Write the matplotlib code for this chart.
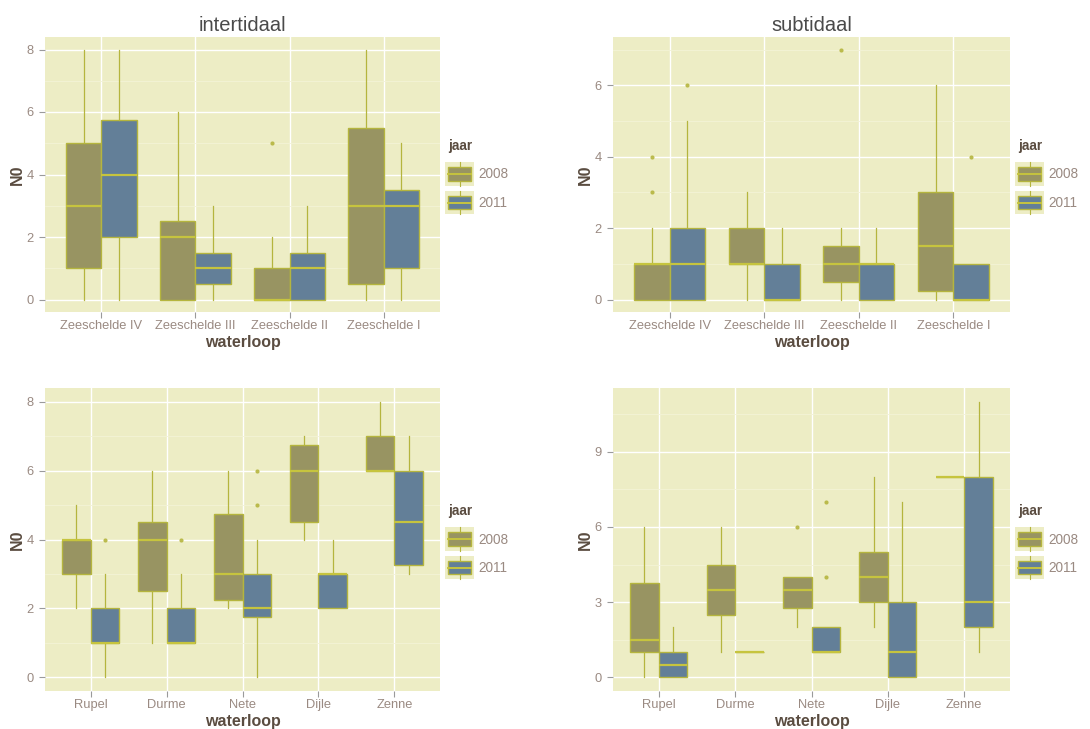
import matplotlib
matplotlib.use("Agg")
import matplotlib.pyplot as plt
from matplotlib.patches import Rectangle
from matplotlib.lines import Line2D
from matplotlib.legend_handler import HandlerBase

plt.rcParams['font.family'] = ['Liberation Sans', 'DejaVu Sans']

# ---------------- data (whislo, q1, median, q3, whishi) ----------------
cats_top = ["Zeeschelde IV", "Zeeschelde III", "Zeeschelde II", "Zeeschelde I"]
cats_bot = ["Rupel", "Durme", "Nete", "Dijle", "Zenne"]
years = ["2008", "2011"]

inter_2008 = [[0, 1, 3, 5, 8], [0, 0, 2, 2.5, 6], [0, 0, 0, 1, 2], [0, 0.5, 3, 5.5, 8]]
inter_2008_out = [[], [], [5], []]
inter_2011 = [[0, 2, 4, 5.75, 8], [0, 0.5, 1, 1.5, 3], [0, 0, 1, 1.5, 3], [0, 1, 3, 3.5, 5]]
inter_2011_out = [[], [], [], []]

sub_2008 = [[0, 0, 1, 1, 2], [0, 1, 1, 2, 3], [0, 0.5, 1, 1.5, 2], [0, 0.25, 1.5, 3, 6]]
sub_2008_out = [[3, 4], [], [7], []]
sub_2011 = [[0, 0, 1, 2, 5], [0, 0, 0, 1, 2], [0, 0, 1, 1, 2], [0, 0, 0, 1, 1]]
sub_2011_out = [[6], [], [], [4]]

zij_int_2008 = [[2, 3, 4, 4, 5], [1, 2.5, 4, 4.5, 6], [2, 2.25, 3, 4.75, 6], [4, 4.5, 6, 6.75, 7], [6, 6, 6, 7, 8]]
zij_int_2008_out = [[], [], [], [], []]
zij_int_2011 = [[0, 1, 1, 2, 3], [1, 1, 1, 2, 3], [0, 1.75, 2, 3, 4], [2, 2, 3, 3, 4], [3, 3.25, 4.5, 6, 7]]
zij_int_2011_out = [[4], [4], [5, 6], [], []]

zij_sub_2008 = [[0, 1, 1.5, 3.75, 6], [1, 2.5, 3.5, 4.5, 6], [2, 2.75, 3.5, 4, 4], [2, 3, 4, 5, 8], [8, 8, 8, 8, 8]]
zij_sub_2008_out = [[], [], [6], [], []]
zij_sub_2011 = [[0, 0, 0.5, 1, 2], [1, 1, 1, 1, 1], [1, 1, 1, 2, 2], [0, 0, 1, 3, 7], [1, 2, 3, 8, 11]]
zij_sub_2011_out = [[], [], [4, 7], [], []]

# ---------------- styling ----------------
BG = "#EDEDC5"
MINOR = "#F3F3D6"
FILL = {"2008": "#989462", "2011": "#637F98"}
EDGE = "#B5B53E"
MED = "#C6C43E"
TICKC = "#9A8A82"
AXTC = "#5A4C40"

fig = plt.figure(figsize=(10.9, 7.29), dpi=100)
fig.patch.set_facecolor("white")

W, H = 1090, 729
def rect(l, t, r, b):
    return [l / W, 1 - b / H, (r - l) / W, (b - t) / H]

panels = [
    dict(pos=rect(45, 37, 440, 312), cats=cats_top, d08=inter_2008, o08=inter_2008_out,
         d11=inter_2011, o11=inter_2011_out, ymax=8, yticks=[0, 2, 4, 6, 8], minor=[1, 3, 5, 7], title="intertidaal"),
    dict(pos=rect(613, 37, 1010, 312), cats=cats_top, d08=sub_2008, o08=sub_2008_out,
         d11=sub_2011, o11=sub_2011_out, ymax=7, yticks=[0, 2, 4, 6], minor=[1, 3, 5, 7], title="subtidaal"),
    dict(pos=rect(45, 388, 440, 691), cats=cats_bot, d08=zij_int_2008, o08=zij_int_2008_out,
         d11=zij_int_2011, o11=zij_int_2011_out, ymax=8, yticks=[0, 2, 4, 6, 8], minor=[1, 3, 5, 7], title=None),
    dict(pos=rect(613, 388, 1010, 691), cats=cats_bot, d08=zij_sub_2008, o08=zij_sub_2008_out,
         d11=zij_sub_2011, o11=zij_sub_2011_out, ymax=11, yticks=[0, 3, 6, 9], minor=[1.5, 4.5, 7.5, 10.5], title=None),
]


class BoxKey(HandlerBase):
    def create_artists(self, legend, orig_handle, xdescent, ydescent, width, height, fontsize, trans):
        col = orig_handle.get_facecolor()
        arts = []
        arts.append(Rectangle((-xdescent - 2, -ydescent - 3), width + 4, height + 6, facecolor=BG,
                              edgecolor="none", transform=trans))
        arts.append(Line2D([-xdescent + width / 2] * 2, [-ydescent - 3, -ydescent + height + 3],
                           color=EDGE, lw=0.8, transform=trans))
        arts.append(Rectangle((-xdescent, -ydescent + 0.5), width, height - 1, facecolor=col,
                              edgecolor=EDGE, lw=1.0, transform=trans))
        arts.append(Line2D([-xdescent, -xdescent + width], [-ydescent + height / 2] * 2,
                           color=MED, lw=1.4, transform=trans))
        return arts


for p in panels:
    ax = fig.add_axes(p["pos"])
    ax.set_facecolor(BG)
    n = len(p["cats"])
    for yi, (dat, out) in enumerate([(p["d08"], p["o08"]), (p["d11"], p["o11"])]):
        stats = []
        for s, o in zip(dat, out):
            stats.append(dict(whislo=s[0], q1=s[1], med=s[2], q3=s[3], whishi=s[4], fliers=o))
        offs = -0.1875 if yi == 0 else 0.1875
        pos = [i + offs for i in range(n)]
        ax.bxp(stats, positions=pos, widths=0.375, patch_artist=True, showcaps=False,
               boxprops=dict(facecolor=FILL[years[yi]], edgecolor=EDGE, linewidth=1.0),
               medianprops=dict(color=MED, linewidth=1.6),
               whiskerprops=dict(color=EDGE, linewidth=0.9),
               flierprops=dict(marker="o", markersize=3, markerfacecolor=EDGE,
                               markeredgecolor="none", alpha=0.9),
               zorder=3)
    ax.set_xlim(-0.6, n - 0.4)
    ax.set_ylim(-0.05 * p["ymax"], 1.05 * p["ymax"])
    ax.set_xticks(range(n))
    ax.set_xticklabels(p["cats"])
    ax.set_yticks(p["yticks"])
    ax.set_yticks(p["minor"], minor=True)
    ax.grid(True, which="major", color="white", lw=1.0, zorder=0)
    ax.grid(True, which="minor", axis="y", color=MINOR, lw=0.6, zorder=0)
    ax.set_axisbelow(True)
    for sp in ax.spines.values():
        sp.set_visible(False)
    ax.tick_params(which="major", length=4, width=0.8, color="#9A9A9A", labelcolor=TICKC,
                   labelsize=9.3)
    ax.tick_params(axis="x", pad=2)
    ax.tick_params(axis="y", pad=4)
    ax.tick_params(which="minor", length=0)
    ax.set_xlabel("waterloop", fontsize=11.5, fontweight="bold", color=AXTC, labelpad=2)
    ax.set_ylabel("N0", fontsize=11.5, fontweight="bold", color=AXTC, labelpad=1)
    if p["title"]:
        ax.set_title(p["title"], fontsize=14.5, color="#4A4A4A", pad=4)
    handles = [Rectangle((0, 0), 1, 1, facecolor=FILL[y]) for y in years]
    leg = ax.legend(handles, years, title="jaar", loc="center left", bbox_to_anchor=(1.0, 0.5),
                    frameon=False, handler_map={Rectangle: BoxKey()}, handlelength=1.7,
                    handleheight=1.3, fontsize=9.8, labelspacing=1.0, handletextpad=0.5,
                    borderaxespad=0.2)
    leg.get_title().set_fontweight("bold")
    leg.get_title().set_color(AXTC)
    leg.get_title().set_fontsize(9.8)
    leg._legend_box.align = "left"
    for t in leg.get_texts():
        t.set_color(TICKC)

fig.savefig("out.png", dpi=100)
